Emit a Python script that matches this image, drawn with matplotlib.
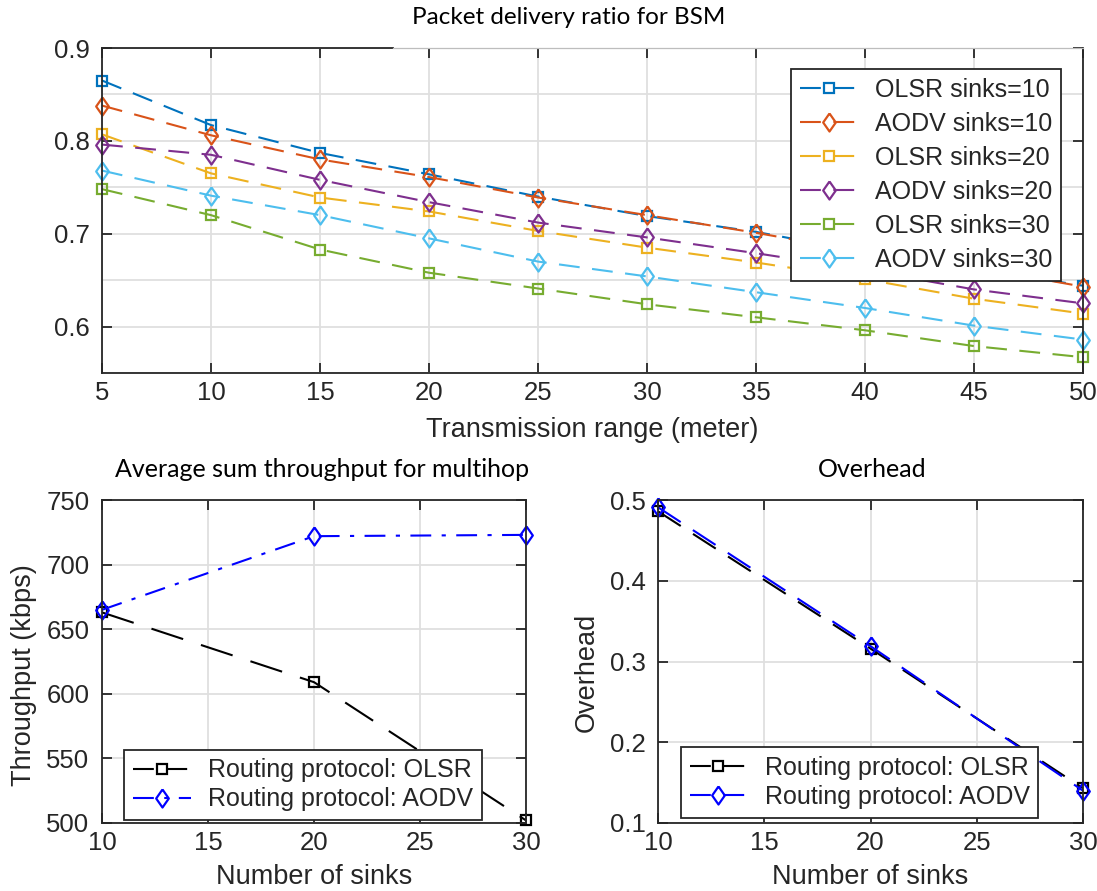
import numpy as np
import matplotlib

matplotlib.use("Agg")
import matplotlib.pyplot as plt
from matplotlib.ticker import MultipleLocator

plt.rcParams["font.family"] = ["Liberation Sans", "DejaVu Sans"]

# ---- data ------------------------------------------------------------------
ranges = [5, 10, 15, 20, 25, 30, 35, 40, 45, 50]
olsr10 = [0.865, 0.817, 0.787, 0.764, 0.740, 0.719, 0.702, 0.680, 0.663, 0.644]
aodv10 = [0.838, 0.806, 0.780, 0.761, 0.739, 0.720, 0.701, 0.680, 0.664, 0.643]
olsr20 = [0.807, 0.765, 0.739, 0.724, 0.703, 0.685, 0.669, 0.651, 0.630, 0.614]
aodv20 = [0.796, 0.785, 0.758, 0.734, 0.712, 0.696, 0.679, 0.661, 0.640, 0.625]
olsr30 = [0.748, 0.720, 0.683, 0.658, 0.641, 0.624, 0.610, 0.596, 0.579, 0.567]
aodv30 = [0.768, 0.741, 0.720, 0.695, 0.670, 0.654, 0.637, 0.620, 0.601, 0.586]
pdr_labels = ["OLSR sinks=10", "AODV sinks=10", "OLSR sinks=20",
              "AODV sinks=20", "OLSR sinks=30", "AODV sinks=30"]

sinks = [10, 20, 30]
tp_olsr = [663, 609, 502]
tp_aodv = [665, 722, 723]
oh_olsr = [0.486, 0.316, 0.143]
oh_aodv = [0.491, 0.319, 0.140]
proto_labels = ["Routing protocol: OLSR", "Routing protocol: AODV"]

# ---- style -----------------------------------------------------------------
MCOL = ["#0072BD", "#D95319", "#EDB120", "#7E2F8E", "#77AC30", "#4DBEEE"]
INK = "#262626"
GRID = "#dfdfdf"
TICK_FS = 18.5
LAB_FS = 19.5
LEG_FS = 18
TITLE_FONT = ["Lato", "DejaVu Sans"]
DIAMOND = [(0, 1), (0.7, 0), (0, -1), (-0.7, 0), (0, 1)]  # MATLAB-like diamond

W, H = 1097, 891
fig = plt.figure(figsize=(W / 100, H / 100), dpi=100)


def px_axes(l, t, r, b):
    return fig.add_axes([l / W, 1 - b / H, (r - l) / W, (b - t) / H])


def matlab_box(ax):
    for s in ax.spines.values():
        s.set_color(INK)
        s.set_linewidth(1.3)
    ax.tick_params(direction="in", length=7, width=1.3, top=True, right=True,
                   colors=INK, labelsize=TICK_FS)
    ax.tick_params(axis="x", pad=6)
    ax.tick_params(axis="y", pad=9)
    ax.set_axisbelow(True)
    ax.grid(True, which="both", color=GRID, linewidth=1.3)


def marker_kw(kind):
    if kind == "s":
        return dict(marker="s", markersize=7.5)
    return dict(marker=DIAMOND, markersize=13)


def legend(ax, labelspacing, **kw):
    leg = ax.legend(borderaxespad=0, fontsize=LEG_FS, handlelength=2.3,
                    labelspacing=labelspacing, fancybox=False, framealpha=1,
                    edgecolor=INK, borderpad=0.35, handletextpad=0.7, **kw)
    leg.get_frame().set_linewidth(1.3)
    for t in leg.get_texts():
        t.set_color(INK)
    return leg


def fig_text(x, y, s, **kw):
    fig.text(x / W, 1 - y / H, s, **kw)


# ---- top: packet delivery ratio --------------------------------------------
ax = px_axes(102, 48, 1083, 373)
matlab_box(ax)
series = [olsr10, aodv10, olsr20, aodv20, olsr30, aodv30]
for i, (vals, lab) in enumerate(zip(series, pdr_labels)):
    ax.plot(ranges, vals, color=MCOL[i], **marker_kw("s" if i % 2 == 0 else "d"),
            markerfacecolor="none", markeredgewidth=1.6, linewidth=1.5,
            dashes=(10, 6), label=lab, clip_on=False)
ax.set_xlim(5, 50)
ax.set_ylim(0.55, 0.9)
ax.set_xticks(ranges)
ax.set_yticks([0.6, 0.7, 0.8, 0.9])
ax.set_yticklabels(["0.6", "0.7", "0.8", "0.9"])
ax.yaxis.set_minor_locator(MultipleLocator(0.05))
ax.tick_params(which="minor", length=0)
# top border is partly hidden under the pasted title in the original
ax.spines["top"].set_visible(False)
ax.plot([5, 18.35], [0.9, 0.9], color=INK, lw=1.3, clip_on=False, zorder=3)
ax.plot([18.35, 50], [0.9, 0.9], color="#bdbdbd", lw=0.9, clip_on=False, zorder=3)
legend(ax, 0.4, loc="upper right", bbox_to_anchor=(0.9776, 0.935))
fig_text(569, 18, "Packet delivery ratio for BSM", ha="center", va="center",
         fontsize=17.5, family=TITLE_FONT, color="black")
fig_text(592, 437, "Transmission range (meter)", ha="center", va="baseline",
         fontsize=LAB_FS, color=INK)

# ---- bottom left: throughput -----------------------------------------------
ax2 = px_axes(102, 500, 526, 823)
matlab_box(ax2)
ax2.plot(sinks, tp_olsr, color="black", **marker_kw("s"),
         markerfacecolor="none", markeredgewidth=1.6, linewidth=1.5,
         dashes=(16, 9), label=proto_labels[0], clip_on=False)
ax2.plot(sinks, tp_aodv, color="blue", **marker_kw("d"),
         markerfacecolor="none", markeredgewidth=1.6, linewidth=1.5,
         dashes=(10, 5, 2, 5), label=proto_labels[1], clip_on=False)
ax2.set_xlim(10, 30)
ax2.set_ylim(500, 750)
ax2.set_xticks([10, 15, 20, 25, 30])
ax2.set_yticks([500, 550, 600, 650, 700, 750])
leg2 = legend(ax2, 0.2, loc="lower left", bbox_to_anchor=(0.053, 0.009))
leg2.legend_handles[0].set_dashes((10, 6))
fig_text(322, 469, "Average sum throughput for multihop", ha="center",
         va="center", fontsize=18, family=TITLE_FONT, color="black")
fig_text(24, 675, "Throughput (kbps)", ha="center", va="center", rotation=90,
         fontsize=LAB_FS, color=INK)
fig_text(314, 890, "Number of sinks", ha="center", va="bottom",
         fontsize=LAB_FS, color=INK)

# ---- bottom right: overhead ------------------------------------------------
ax3 = px_axes(658, 500, 1083, 823)
matlab_box(ax3)
ax3.plot(sinks, oh_olsr, color="black", **marker_kw("s"),
         markerfacecolor="none", markeredgewidth=1.6, linewidth=1.5,
         dashes=(13, 7), label=proto_labels[0], clip_on=False)
ax3.plot(sinks, oh_aodv, color="blue", **marker_kw("d"),
         markerfacecolor="none", markeredgewidth=1.6, linewidth=1.5,
         dashes=(13, 7), label=proto_labels[1], clip_on=False)
ax3.set_xlim(10, 30)
ax3.set_ylim(0.1, 0.5)
ax3.set_xticks([10, 15, 20, 25, 30])
ax3.set_yticks([0.1, 0.2, 0.3, 0.4, 0.5])
leg3 = legend(ax3, 0.2, loc="lower left", bbox_to_anchor=(0.054, 0.0155))
for h in leg3.legend_handles:
    h.set_dashes((10, 6))
fig_text(872, 469, "Overhead", ha="center", va="center", fontsize=18,
         family=TITLE_FONT, color="black")
fig_text(587, 672, "Overhead", ha="center", va="center", rotation=90,
         fontsize=LAB_FS, color=INK)
fig_text(870, 890, "Number of sinks", ha="center", va="bottom",
         fontsize=LAB_FS, color=INK)

fig.savefig("out.png", dpi=100)
